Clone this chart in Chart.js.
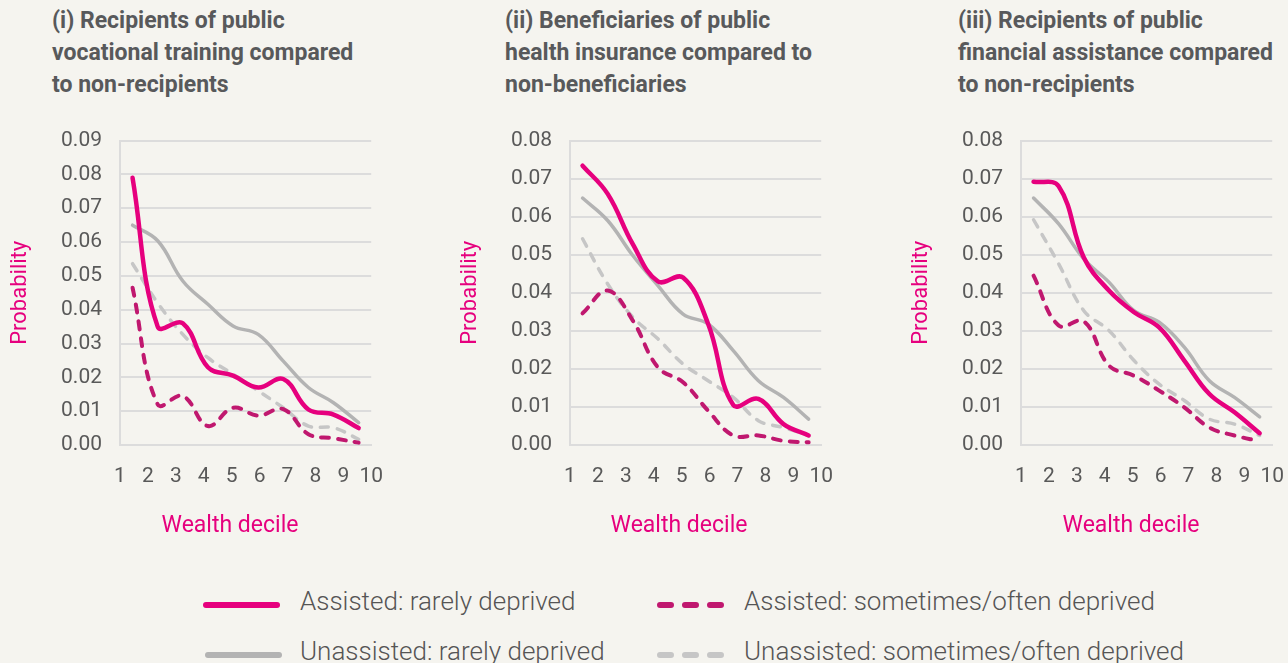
<!DOCTYPE html>
<html>
<head>
<meta charset="utf-8">
<script src="https://cdn.jsdelivr.net/npm/chart.js@4.4.1/dist/chart.umd.min.js"></script>
<style>
  body { margin: 0; width: 1288px; height: 663px; background: #f5f4ef; overflow: hidden; position: relative; font-family: Roboto, sans-serif; }
  .title { position: absolute; top: 5px; font-weight: 700; font-size: 23px; line-height: 32px; color: #58595b; white-space: nowrap; }
  .panel { position: absolute; top: 110px; width: 402px; height: 440px; }
  .xtitle { position: absolute; top: 510px; width: 240px; text-align: center; font-size: 23px; line-height: 30px; color: #e6007e; }
  .legtext { position: absolute; font-size: 26px; font-weight: 300; line-height: 30px; color: #555; white-space: nowrap; }
  .legsvg { position: absolute; }
</style>
</head>
<body>
<div class="title" style="left:52px">(i) Recipients of public<br>vocational training compared<br>to non-recipients</div>
<div class="title" style="left:505px">(ii) Beneficiaries of public<br>health insurance compared to<br>non-beneficiaries</div>
<div class="title" style="left:958px">(iii) Recipients of public<br>financial assistance compared<br>to non-recipients</div>

<div class="panel" style="left:0px"><canvas id="c1" width="402" height="440"></canvas></div>
<div class="panel" style="left:450px"><canvas id="c2" width="402" height="440"></canvas></div>
<div class="panel" style="left:901px"><canvas id="c3" width="402" height="440"></canvas></div>

<div class="xtitle" style="left:110px">Wealth decile</div>
<div class="xtitle" style="left:559px">Wealth decile</div>
<div class="xtitle" style="left:1011px">Wealth decile</div>

<div id="legend"></div>

<script>
// x categories (deciles) and the tick labels of the visible axis
const deciles = ['1', '2', '3', '4', '5', '6', '7', '8', '9', '10'];
const seriesNames = [
  'Assisted: rarely deprived',
  'Assisted: sometimes/often deprived',
  'Unassisted: rarely deprived',
  'Unassisted: sometimes/often deprived'
];

// (i) vocational training
const p1AssistedRare    = [0.079, 0.035, 0.036, 0.023, 0.0205, 0.017, 0.0195, 0.0105, 0.009, 0.005];
const p1AssistedOften   = [0.0465, 0.012, 0.0145, 0.0056, 0.011, 0.0087, 0.0106, 0.0032, 0.002, 0.0007];
const p1UnassistedRare  = [0.065, 0.0604, 0.0485, 0.0416, 0.0352, 0.0327, 0.0248, 0.017, 0.0125, 0.0066];
const p1UnassistedOften = [0.0536, 0.042, 0.0327, 0.0258, 0.0209, 0.016, 0.011, 0.0056, 0.0051, 0.0017];

// (ii) health insurance
const p2AssistedRare    = [0.0734, 0.066, 0.0528, 0.043, 0.044, 0.0318, 0.0105, 0.0121, 0.0055, 0.0025];
const p2AssistedOften   = [0.0346, 0.0406, 0.0327, 0.0204, 0.0165, 0.009, 0.0025, 0.0025, 0.0011, 0.0007];
const p2UnassistedRare  = [0.0649, 0.059, 0.0498, 0.0419, 0.0344, 0.0318, 0.0248, 0.0169, 0.0125, 0.0068];
const p2UnassistedOften = [0.0542, 0.0423, 0.0336, 0.0279, 0.0213, 0.0169, 0.0125, 0.0064, 0.0046, 0.0025];

// (iii) financial assistance
const p3AssistedRare    = [0.0692, 0.068, 0.0493, 0.0406, 0.0349, 0.0309, 0.0222, 0.0134, 0.0086, 0.0031];
const p3AssistedOften   = [0.0445, 0.0314, 0.0325, 0.0209, 0.0182, 0.0143, 0.0099, 0.0046, 0.0025, 0.001];
const p3UnassistedRare  = [0.0649, 0.0581, 0.0489, 0.0428, 0.0353, 0.0323, 0.0257, 0.0169, 0.0125, 0.0074];
const p3UnassistedOften = [0.0592, 0.0476, 0.0353, 0.0301, 0.0222, 0.016, 0.0117, 0.0068, 0.0055, 0.0025];

const PINK = '#e6007e';
const PINK_DARK = '#c0186f';
const GREY = '#b3b3b3';
const GREY_LIGHT = '#c6c6c6';
const TEXT = '#595959';
const GRID = '#dcdcdc';

// Same styles for every panel, same order as seriesNames.
const lineStyles = [
  { color: PINK, width: 4.5, dash: [] },
  { color: PINK_DARK, width: 4, dash: [8, 9] },
  { color: GREY, width: 3.5, dash: [] },
  { color: GREY_LIGHT, width: 3.5, dash: [8, 9] }
];

function makePanel(canvasId, yMax, seriesData) {
  const datasets = seriesData.map((values, i) => ({
    label: seriesNames[i],
    data: values,
    borderColor: lineStyles[i].color,
    borderWidth: lineStyles[i].width,
    borderDash: lineStyles[i].dash,
    borderCapStyle: 'round',
    borderJoinStyle: 'round',
    pointRadius: 0,
    tension: 0.4,
    fill: false
  }));

  return new Chart(document.getElementById(canvasId), {
    type: 'line',
    data: { labels: deciles, datasets: datasets },
    options: {
      responsive: false,
      animation: false,
      layout: { padding: { left: 0, right: 21, top: 30, bottom: 0 } },
      plugins: { legend: { display: false }, tooltip: { enabled: false } },
      scales: {
        // data sits on the decile categories
        x: { type: 'category', offset: true, display: false },
        // visible axis: labels 1..10 at the plot edges, like the original
        x2: {
          type: 'linear', position: 'bottom', min: 1, max: 10,
          afterFit: (scale) => { scale.height = 105; },
          ticks: {
            stepSize: 1, padding: 19, color: TEXT,
            autoSkip: false, maxRotation: 0, minRotation: 0,
            font: { family: 'Roboto', size: 21 },
            callback: (v) => deciles[v - 1]
          },
          grid: { display: false, drawTicks: false },
          border: { display: true, color: GRID, width: 2 }
        },
        y: {
          min: 0, max: yMax,
          afterFit: (scale) => { scale.width = 120; },
          ticks: {
            stepSize: 0.01, padding: 18, color: TEXT,
            font: { family: 'Roboto', size: 21 },
            callback: (v) => v.toFixed(2)
          },
          grid: { color: GRID, lineWidth: 2, drawTicks: false },
          border: { display: true, color: GRID, width: 2 },
          title: {
            display: true, text: 'Probability', color: PINK,
            font: { family: 'Roboto', size: 22 },
            padding: { top: 7, bottom: 0 }
          }
        }
      }
    }
  });
}

makePanel('c1', 0.09, [p1AssistedRare, p1AssistedOften, p1UnassistedRare, p1UnassistedOften]);
makePanel('c2', 0.08, [p2AssistedRare, p2AssistedOften, p2UnassistedRare, p2UnassistedOften]);
makePanel('c3', 0.08, [p3AssistedRare, p3AssistedOften, p3UnassistedRare, p3UnassistedOften]);

// Shared legend below the panels (2 x 2 grid).
const legendSlots = [
  { x: 206, text: 300, y: 602 },
  { x: 660, text: 744, y: 602 },
  { x: 208, text: 300, y: 652 },
  { x: 660, text: 744, y: 652 }
];
const legendBox = document.getElementById('legend');
seriesNames.forEach((name, i) => {
  const slot = legendSlots[i];
  const st = lineStyles[i];
  const len = st.dash.length ? 66 : 71;
  const dash = st.dash.length ? 'stroke-dasharray="11 14"' : '';
  const svg = document.createElement('div');
  svg.className = 'legsvg';
  svg.style.left = (slot.x - 4) + 'px';
  svg.style.top = (slot.y - 6) + 'px';
  svg.innerHTML = '<svg width="' + (len + 8) + '" height="12"><line x1="4" y1="6" x2="' + (len + 4) +
    '" y2="6" stroke="' + st.color + '" stroke-width="6" stroke-linecap="round" ' + dash + '/></svg>';
  legendBox.appendChild(svg);

  const label = document.createElement('div');
  label.className = 'legtext';
  label.style.left = slot.text + 'px';
  label.style.top = (slot.y - 16) + 'px';
  label.textContent = name;
  legendBox.appendChild(label);
});
</script>
</body>
</html>
